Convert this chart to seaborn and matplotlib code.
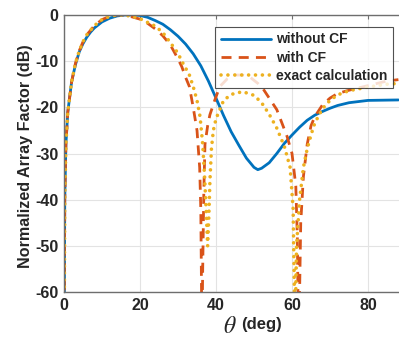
import numpy as np
import pandas as pd
import matplotlib
matplotlib.use("Agg")
import matplotlib.pyplot as plt
import seaborn as sns

# ---- data ----
theta_without = [0.0, 0.2, 0.5, 1, 2, 3, 4, 5, 6, 7, 8, 10, 12, 14, 16, 18, 20, 22, 24, 26,
                 28, 30, 32, 34, 36, 38, 40, 42, 44, 46, 48, 50, 51, 52, 54, 56, 58, 60,
                 62, 64, 66, 68, 70, 72, 75, 80, 88]
af_without = [-80, -40, -28, -21, -14.5, -10.8, -8.0, -6.2, -4.8, -3.7, -2.8, -1.5, -0.7, -0.2,
              0.0, 0.0, -0.1, -0.5, -1.2, -2.0, -3.2, -4.6, -6.3, -8.4, -11.0, -14.3, -18.0,
              -21.8, -25.3, -28.2, -31.0, -33.0, -33.5, -33.2, -32.0, -30.0, -27.8, -26.0,
              -24.3, -22.8, -21.7, -20.9, -20.2, -19.6, -19.0, -18.5, -18.4]

theta_with = [0.0, 0.2, 0.5, 1, 2, 3, 4, 5, 6, 8, 10, 12, 14, 15.5, 17, 20, 22, 24, 26, 28,
              30, 31, 32, 33, 34, 35, 35.7, 36.0, 36.3, 36.5, 36.8, 37.1, 37.8, 38.4, 39.7,
              41, 43, 45, 47, 49, 51, 52.4, 54, 56, 58.7, 60, 61, 61.4, 61.7, 62.0, 62.3,
              63, 64, 65, 66, 68, 70, 72, 75, 80, 85, 88]
af_with = [-80, -40, -28, -21, -14.5, -10.5, -7.8, -5.8, -4.3, -2.3, -1.0, -0.3, 0.0, 0.0,
           -0.2, -0.9, -1.8, -3.0, -4.5, -6.5, -9.5, -11.2, -13.5, -15.5, -20.0, -25.0,
           -33.0, -42.0, -70, -55, -38, -28, -24, -21.6, -18.4, -15.5, -13.8, -13.0, -13.0,
           -13.5, -14.8, -16.0, -18.0, -20.5, -26.3, -30.0, -37.0, -48.0, -70, -60, -45,
           -35, -28, -24, -22, -19.5, -18, -17, -16.3, -15.3, -14.3, -14.0]

theta_exact = [0.0, 0.2, 0.5, 1, 2, 3, 4, 5, 6, 8, 10, 12, 14, 15.5, 18, 20, 22, 24, 26, 28,
               30, 31, 33, 34, 35, 35.8, 36.5, 37.0, 37.5, 37.8, 38.1, 38.4, 38.8, 39.3, 40,
               42, 44, 47, 50, 52, 54, 56, 58, 59.5, 60.3, 60.8, 61.2, 62, 63, 64, 65, 66,
               68, 70, 72, 75, 80, 85, 88]
af_exact = [-80, -40, -28, -21, -14.5, -10.5, -7.8, -5.8, -4.3, -2.3, -1.0, -0.3, 0.0, 0.0,
            -0.3, -0.8, -1.6, -2.4, -3.8, -6.0, -8.3, -10.0, -13.0, -15.5, -18.5, -22.0,
            -28.0, -35.0, -44.0, -50.0, -44.0, -36.0, -29.0, -25.0, -22.5, -18.5, -17.2,
            -16.6, -17.4, -19.0, -21.5, -24.5, -28.5, -33.0, -42.0, -70, -50, -40, -33,
            -29, -26, -23.4, -20.3, -18.5, -17.3, -16.4, -15.6, -15.0, -14.8]

labels = ["without CF", "with CF", "exact calculation"]
colors = ["#0072BD", "#D95319", "#EDB120"]
x_ticks = [0, 20, 40, 60, 80]
y_ticks = [0, -10, -20, -30, -40, -50, -60]

# ---- figure ----
sns.set_style("white")
plt.rcParams["font.family"] = ["Liberation Sans", "DejaVu Sans"]
plt.rcParams["mathtext.fontset"] = "stix"
plt.rcParams["axes.unicode_minus"] = False

fig = plt.figure(figsize=(3.99, 3.41), dpi=100)
ax = fig.add_axes([64 / 399, (341 - 292) / 341, 342 / 399, 277 / 341])

sns.lineplot(x=theta_without, y=af_without, ax=ax, sort=False, color=colors[0],
             lw=2.0, label=labels[0])
sns.lineplot(x=theta_with, y=af_with, ax=ax, sort=False, color=colors[1],
             lw=2.0, linestyle=(0, (3.6, 2.6)), label=labels[1])
sns.lineplot(x=theta_exact, y=af_exact, ax=ax, sort=False, color=colors[2],
             lw=2.6, linestyle=(0, (0.01, 1.9)), dash_capstyle="round", label=labels[2])

ax.set_xlim(0, 90)
ax.set_ylim(-60, 0)
ax.set_xticks(x_ticks)
ax.set_yticks(y_ticks)
ax.grid(True, color="#e3e3e3", lw=0.8)
ax.set_axisbelow(True)

for s in ax.spines.values():
    s.set_color("#6e6e6e")
    s.set_linewidth(1.0)
ax.tick_params(direction="in", length=3, width=0.8, color="#6e6e6e",
               top=True, right=True, labelsize=11.5, pad=4)
for t in ax.get_xticklabels() + ax.get_yticklabels():
    t.set_fontweight("bold")
    t.set_color("#262626")

ax.set_ylabel("Normalized Array Factor (dB)", fontsize=11.6, fontweight="bold",
              color="#262626")
ax.yaxis.set_label_coords(-0.092, 0.49)
ax.set_xlabel("")
fig.text(230 / 399, 1 - 327 / 341, r"$\theta$", fontsize=17, ha="center", va="center",
         color="#262626")
fig.text(241 / 399, 1 - 325 / 341, "(deg)", fontsize=12, fontweight="bold",
         ha="left", va="center", color="#262626")

leg = ax.legend(loc="upper right", bbox_to_anchor=(0.962, 0.957), borderaxespad=0,
                frameon=True, fancybox=False, handlelength=3.6, handletextpad=0.4,
                labelspacing=0.3, borderpad=0.4, prop={"weight": "bold", "size": 10})
leg.get_frame().set_edgecolor("#262626")
leg.get_frame().set_linewidth(0.8)
for t in leg.get_texts():
    t.set_color("#262626")

fig.savefig("out.png", dpi=100)
